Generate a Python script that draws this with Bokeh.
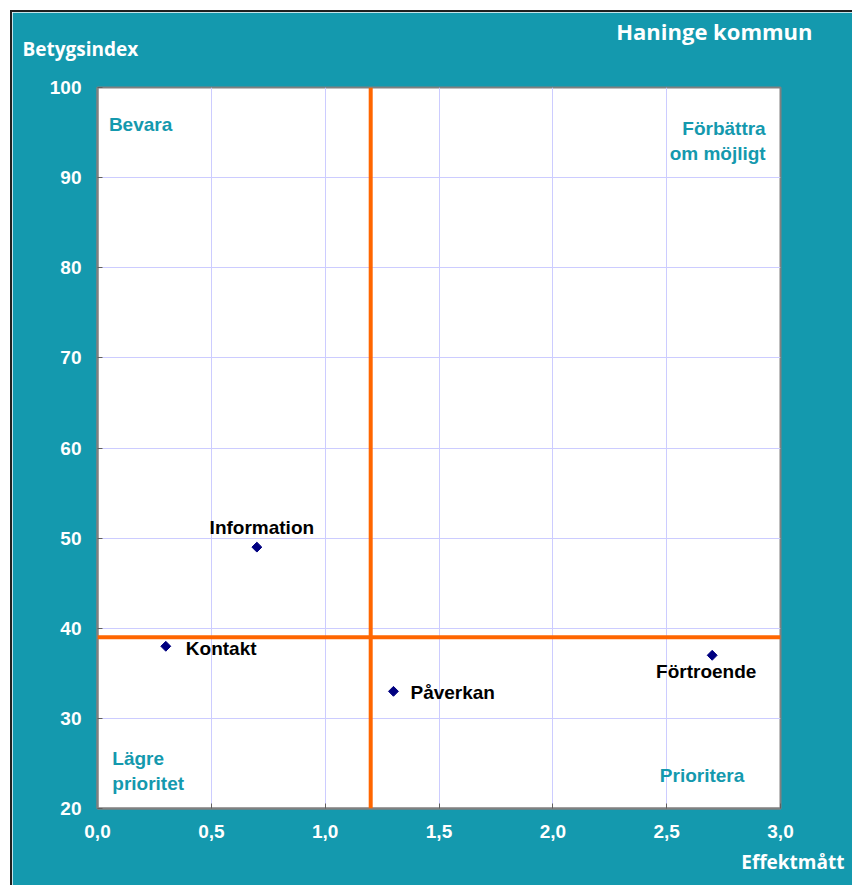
import math
from bokeh.plotting import figure
from bokeh.models import (Label, Span, Range1d, FixedTicker, CustomJSTickFormatter,
                          ColumnDataSource, Title)
from bokeh.embed import file_html
from bokeh.resources import INLINE

# ---- data ----
names = ["Information", "Kontakt", "Påverkan", "Förtroende"]
effekt = [0.7, 0.3, 1.3, 2.7]
betyg = [49, 38, 33, 37]
x_ticks = [0.0, 0.5, 1.0, 1.5, 2.0, 2.5, 3.0]
y_ticks = [20, 30, 40, 50, 60, 70, 80, 90, 100]
x_split = 1.2
y_split = 39
title_text = "Haninge kommun"
y_title = "Betygsindex"
x_title = "Effektmått"

TEAL = "#1499AE"
FONT = "Liberation Sans"

p = figure(width=842, height=875, output_backend="svg", toolbar_location=None,
           x_range=Range1d(0, 3), y_range=Range1d(20, 100),
           frame_width=683, frame_height=721,
           min_border_left=85, min_border_top=75, min_border_right=72, min_border_bottom=77)
p.margin = (10, 0, 0, 10)
p.styles = {"border-top": "2px solid #202020", "border-left": "2px solid #202020",
            "box-sizing": "border-box"}
p.background_fill_color = "white"
p.border_fill_color = TEAL
p.outline_line_color = "#808080"
p.outline_line_width = 2

for ax in (p.xaxis[0], p.yaxis[0]):
    ax.axis_line_color = "#808080"
    ax.axis_line_width = 2
    ax.major_tick_in = 5
    ax.major_tick_out = 0
    ax.major_tick_line_color = "#606060"
    ax.minor_tick_line_color = None
    ax.major_label_text_color = "white"
    ax.major_label_text_font = FONT
    ax.major_label_text_font_style = "bold"
    ax.major_label_text_font_size = "19px"

p.xaxis.ticker = FixedTicker(ticks=x_ticks)
p.yaxis.ticker = FixedTicker(ticks=y_ticks)
p.xaxis.formatter = CustomJSTickFormatter(code="return tick.toFixed(1).replace('.', ',');")
p.xaxis.major_label_standoff = 16
p.yaxis.major_label_standoff = 16

p.grid.grid_line_color = "#CCCCFF"
p.grid.grid_line_width = 1

p.add_layout(Span(location=x_split, dimension="height", line_color="#FF6600", line_width=4))
p.add_layout(Span(location=y_split, dimension="width", line_color="#FF6600", line_width=4))

src = ColumnDataSource(dict(x=effekt, y=betyg, name=names))
p.scatter("x", "y", source=src, marker="square", angle=math.pi / 4, size=7, color="#000080")

# label placement per point (offsets in px)
placement = {
    "Information": dict(x_offset=5, y_offset=9, text_align="center", text_baseline="bottom"),
    "Kontakt": dict(x_offset=20, y_offset=-2, text_align="left", text_baseline="middle"),
    "Påverkan": dict(x_offset=17, y_offset=-1, text_align="left", text_baseline="middle"),
    "Förtroende": dict(x_offset=-6, y_offset=-6, text_align="center", text_baseline="top"),
}
for n, xv, yv in zip(names, effekt, betyg):
    p.add_layout(Label(x=xv, y=yv, text=n, text_font=FONT, text_font_style="bold",
                       text_font_size="19px", text_color="black", **placement[n]))

quad = dict(text_font=FONT, text_font_style="bold", text_font_size="19px", text_color=TEAL)
p.add_layout(Label(x=0.05, y=95.9, text="Bevara", text_baseline="middle", **quad))
p.add_layout(Label(x=2.935, y=94.1, text="Förbättra\nom möjligt", text_align="right",
                   text_baseline="middle", **quad))
p.add_layout(Label(x=0.065, y=24.2, text="Lägre\nprioritet", text_baseline="middle", **quad))
p.add_layout(Label(x=2.47, y=23.7, text="Prioritera", text_baseline="middle", **quad))

# outer titles in the side panels
outer = dict(text_font="Open Sans", text_font_style="bold", text_color="white")
p.add_layout(Title(text=y_title, align="left", offset=-75, standoff=47,
                   vertical_align="top", text_font_size="19px", **outer), "above")
p.add_layout(Title(text=title_text, align="right", offset=-32, standoff=-66,
                   text_font_size="22px", **outer), "above")
p.add_layout(Title(text=x_title, align="right", offset=-64, standoff=17,
                   vertical_align="top", text_font_size="19px", **outer), "below")

open("out.html", "w").write(file_html(p, INLINE))
